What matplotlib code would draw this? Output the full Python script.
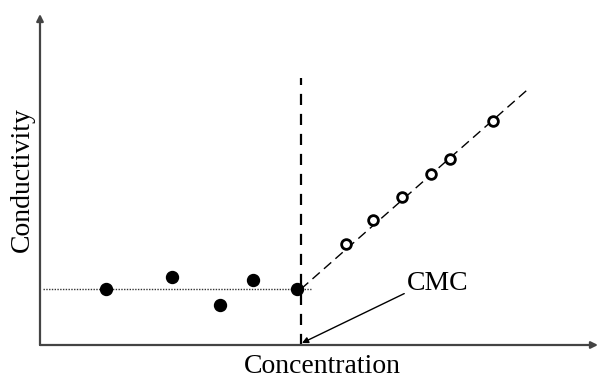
import matplotlib
matplotlib.use("Agg")
import matplotlib.pyplot as plt
import numpy as np

plt.rcParams['font.family'] = ['Liberation Serif', 'DejaVu Serif']

# Pre-micellar region (filled points)
conc_below = [6.6, 13.2, 18.0, 21.3, 25.7]
cond_below = [5.6, 6.8, 4.0, 6.5, 5.6]

# Post-micellar region (open points)
conc_above = [30.6, 33.3, 36.2, 39.1, 41.0, 45.3]
cond_above = [10.1, 12.5, 14.8, 17.1, 18.6, 22.4]

cmc = 26.1
baseline = 5.6
slope = 0.88
fit_end = 49.0

fig = plt.figure(figsize=(5.98, 3.79), dpi=100)
ax = fig.add_axes([40/598, 34/379, 558/598, 331/379])
ax.set_xlim(0, 55.8)
ax.set_ylim(0, 33.1)
for s in ax.spines.values():
    s.set_visible(False)
ax.set_xticks([])
ax.set_yticks([])
ax.patch.set_alpha(0)

axis_col = '#444444'
# axes with arrow heads
ax.annotate('', xy=(1.0, 0), xytext=(0, 0), xycoords='axes fraction',
            arrowprops=dict(arrowstyle='-|>', color=axis_col, lw=1.6,
                            mutation_scale=10, shrinkA=0, shrinkB=0),
            annotation_clip=False)
ax.annotate('', xy=(0, 1.0), xytext=(0, 0), xycoords='axes fraction',
            arrowprops=dict(arrowstyle='-|>', color=axis_col, lw=1.6,
                            mutation_scale=10, shrinkA=0, shrinkB=0),
            annotation_clip=False)

# baseline (dotted)
ax.plot([0.3, cmc + 1.0], [baseline, baseline], color='#333333', lw=1.0,
        linestyle=(0, (1, 1)))
# CMC vertical dashed line
ax.plot([cmc, cmc], [0, 26.7], color='black', lw=1.6, linestyle=(0, (5, 4)))
# linear fit above CMC
xf = np.array([cmc, fit_end])
ax.plot(xf, baseline + slope * (xf - cmc), color='black', lw=1.0,
        linestyle=(0, (7, 4)))

ax.plot(conc_below, cond_below, 'o', color='black', markersize=8.6,
        linestyle='none', clip_on=False)
ax.plot(conc_above, cond_above, 'o', markerfacecolor='white',
        markeredgecolor='black', markeredgewidth=2.0, markersize=7,
        linestyle='none', zorder=5)

ax.annotate('CMC', xy=(cmc + 0.1, 0.2), xytext=(36.7, 5.5),
            fontsize=20, ha='left', va='baseline',
            arrowprops=dict(arrowstyle='-|>', color='black', lw=1.0,
                            mutation_scale=9, shrinkA=0, shrinkB=0,
                            relpos=(0, 0.15)))

fig.text(322/598, 1 - 373/379, 'Concentration', fontsize=20,
         ha='center', va='baseline')
fig.text(22/598, 1 - 180/379, 'Conductivity', fontsize=20,
         ha='center', va='center', rotation=90)

fig.savefig('out.png', dpi=100)
